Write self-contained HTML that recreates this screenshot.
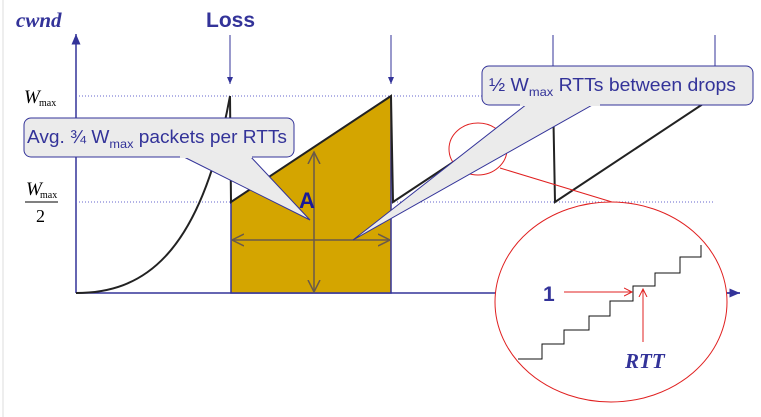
<!DOCTYPE html>
<html><head><meta charset="utf-8"><style>
body{margin:0;background:#fff}
svg{display:block;font-family:"Liberation Sans",sans-serif}
</style></head><body>
<svg width="761" height="417" viewBox="0 0 761 417">
<defs>
<marker id="ab" markerWidth="8" markerHeight="8" refX="7" refY="4" orient="auto"><path d="M0,1 L7,4 L0,7 Z" fill="#333399"/></marker>
<marker id="ao" markerWidth="10" markerHeight="10" refX="8" refY="5" orient="auto-start-reverse"><path d="M0,1 L8,5 L0,9" fill="none" stroke="#6a5a4a" stroke-width="1"/></marker>
<marker id="ar" markerWidth="10" markerHeight="10" refX="8" refY="5" orient="auto"><path d="M0,1 L8,5 L0,9" fill="none" stroke="#e02020" stroke-width="1"/></marker>
</defs>
<line x1="3" y1="0" x2="3" y2="417" stroke="#ddd"/>
<text x="16" y="27" font-family="Liberation Serif,serif" font-style="italic" font-weight="bold" font-size="21" fill="#333399">cwnd</text>
<text x="206" y="27" font-weight="bold" font-size="21" fill="#333399">Loss</text>
<line x1="76" y1="293" x2="76" y2="34" stroke="#333399" stroke-width="1.5" marker-end="url(#ab)"/>
<line x1="76" y1="293" x2="740" y2="293" stroke="#333399" stroke-width="1.5" marker-end="url(#ab)"/>
<line x1="76" y1="96" x2="715" y2="96" stroke="#6666cc" stroke-dasharray="1,2"/>
<line x1="76" y1="202" x2="715" y2="202" stroke="#6666cc" stroke-dasharray="1,2"/>
<g font-family="Liberation Serif,serif" fill="#000">
<text x="24" y="103" font-size="19" font-style="italic">W</text><text x="39" y="106" font-size="10">max</text>
<text x="26" y="195" font-size="19" font-style="italic">W</text><text x="40" y="198" font-size="10">max</text>
<line x1="25" y1="202" x2="58" y2="202" stroke="#000"/>
<text x="36" y="222" font-size="18">2</text>
</g>
<g stroke="#333399" stroke-width="1">
<line x1="230" y1="35" x2="230" y2="84" marker-end="url(#ab)"/>
<line x1="391" y1="35" x2="391" y2="84" marker-end="url(#ab)"/>
<line x1="553" y1="35" x2="553" y2="70"/>
<line x1="715" y1="35" x2="715" y2="70"/>
</g>
<path d="M76,293 C140,293 200,260 230,96" fill="none" stroke="#222" stroke-width="2"/>
<polygon points="231,293 231,202 391,96 391,293" fill="#d4a500" stroke="#333399" stroke-width="1.5"/>
<path d="M230,96 L231,202 L391,96 L393,202 L553,96 L555,202 L715,96" fill="none" stroke="#222" stroke-width="2"/>
<line x1="232" y1="240" x2="390" y2="240" stroke="#6a5a4a" stroke-width="1.5" marker-start="url(#ao)" marker-end="url(#ao)"/>
<line x1="314" y1="152" x2="314" y2="292" stroke="#6a5a4a" stroke-width="1.5" marker-start="url(#ao)" marker-end="url(#ao)"/>
<text x="299" y="208" font-weight="bold" font-size="22" fill="#1a1a99">A</text>
<ellipse cx="478" cy="149" rx="29" ry="26" fill="none" stroke="#e02020"/>
<line x1="500" y1="168" x2="612" y2="202" stroke="#e02020"/>
<g>
<path d="M527,104 L353,240 L594,104 Z" fill="#ebebeb" stroke="#333399" stroke-width="1"/>
<rect x="482" y="66" width="271" height="39" rx="7" fill="#ebebeb" stroke="#333399"/>
<rect x="520" y="100" width="80" height="6" fill="#ebebeb"/>
<text x="489" y="91" font-size="18" fill="#333399" textLength="247" lengthAdjust="spacingAndGlyphs">½ W<tspan font-size="12" dy="5">max</tspan><tspan dy="-5"> RTTs between drops</tspan></text>
</g>
<g>
<path d="M182,156 L310,220 L250,156 Z" fill="#ebebeb" stroke="#333399" stroke-width="1"/>
<rect x="24" y="118" width="270" height="39" rx="7" fill="#ebebeb" stroke="#333399"/>
<rect x="180" y="152" width="72" height="6" fill="#ebebeb"/>
<text x="27" y="143" font-size="18" fill="#333399" textLength="260" lengthAdjust="spacingAndGlyphs">Avg. ¾ W<tspan font-size="12" dy="5">max</tspan><tspan dy="-5"> packets per RTTs</tspan></text>
</g>
<ellipse cx="611" cy="302" rx="116" ry="100" fill="#fff" stroke="#e02020"/>
<line x1="727" y1="293" x2="740" y2="293" stroke="#333399" stroke-width="1.5"/>
<path d="M518,359 L542,359 L542,344 L564,344 L564,330 L589,330 L589,316 L610,316 L610,301 L633,301 L633,286 L655,286 L655,273 L680,273 L680,257 L701,257 L701,245" fill="none" stroke="#111" stroke-width="1"/>
<text x="543" y="301" font-weight="bold" font-size="21" fill="#333399">1</text>
<line x1="564" y1="292" x2="632" y2="292" stroke="#e02020" marker-end="url(#ar)"/>
<line x1="643" y1="342" x2="643" y2="289" stroke="#e02020" marker-end="url(#ar)"/>
<text x="625" y="368" font-family="Liberation Serif,serif" font-style="italic" font-weight="bold" font-size="21" fill="#333399">RTT</text>
</svg>
</body></html>
